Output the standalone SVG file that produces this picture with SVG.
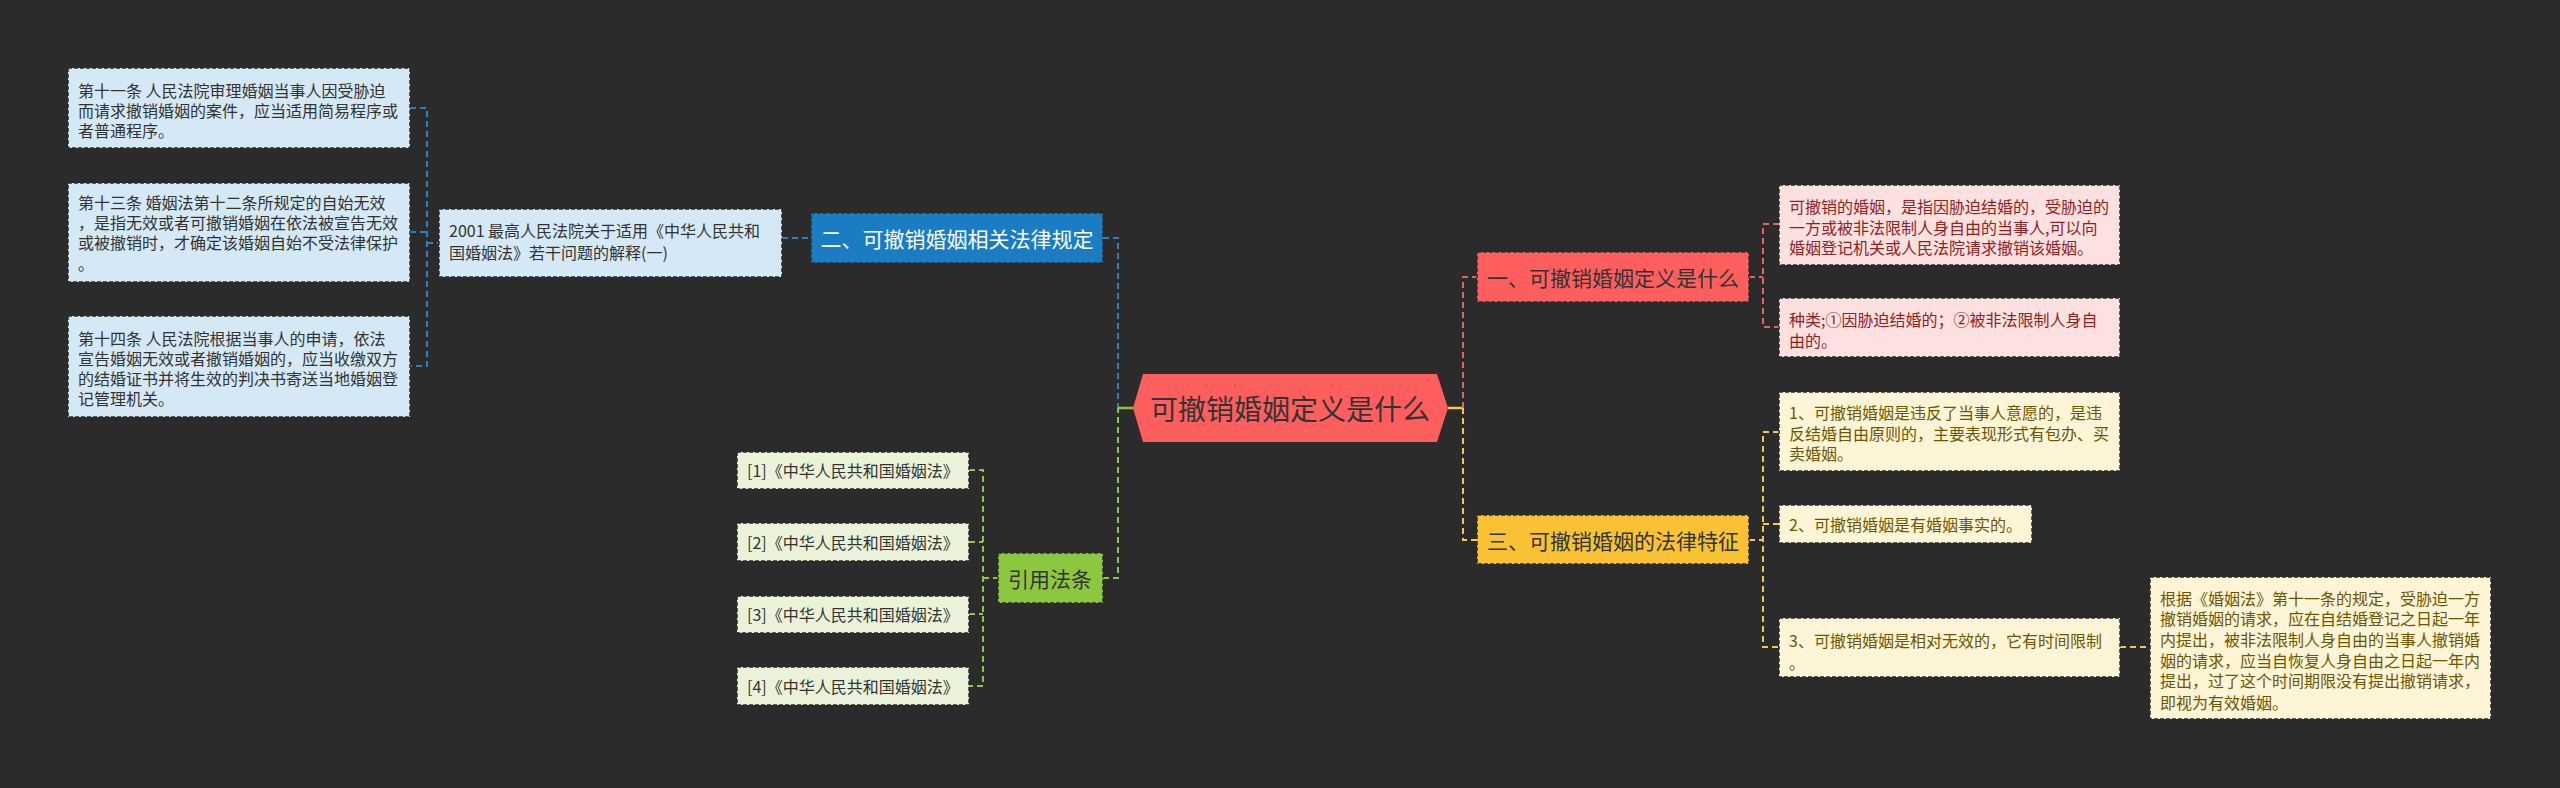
<svg xmlns="http://www.w3.org/2000/svg" width="2560" height="788" viewBox="0 0 2560 788">
<style>
text{font-family:"Noto Sans CJK SC","Noto Sans",sans-serif;dominant-baseline:central}
.t16{font-size:16px}
.bl rect{fill:#d5e8f5;stroke:#2b2b2b;stroke-width:1.5;stroke-dasharray:4 2}
.bl text{fill:#333}
.gr rect{fill:#eaf3da;stroke:#2b2b2b;stroke-width:1.5;stroke-dasharray:4 2}
.gr text{fill:#333}
.pk rect{fill:#fde0e0;stroke:#2b2b2b;stroke-width:1.5;stroke-dasharray:4 2}
.pk text{fill:#8f2323}
.ye rect{fill:#fef4d6;stroke:#2b2b2b;stroke-width:1.5;stroke-dasharray:4 2}
.ye text{fill:#6e5600}
.main rect{stroke:#2b2b2b;stroke-width:1.5;stroke-dasharray:4 2}
.main text{font-size:21px}
.c{fill:none;stroke-width:2;stroke-dasharray:6 4}
.cb{stroke:#2b80c0}.cg{stroke:#8dc63f}.cr{stroke:#e06666}.cy{stroke:#f2c94c}
</style>
<rect width="2560" height="788" fill="#2b2b2b"/>
<g id="connectors">
<path class="c cb" d="M410 108H427V366H410M410 232H427M427 243H439"/>
<path class="c cb" d="M782 238H811"/>
<path class="c cb" d="M1103 238H1118V408"/>
<path class="c cg" d="M969 470H983V686H969M969 542H983M969 614H983M983 578H998"/>
<path class="c cg" d="M1103 578H1118V408"/>
<path d="M1118 408H1133" stroke="#8dc63f" stroke-width="2.5" fill="none"/>
<path d="M1448 408H1463" stroke="#f2c94c" stroke-width="2.5" fill="none"/>
<path class="c cr" d="M1463 408V277H1477"/>
<path class="c cy" d="M1463 408V540H1477"/>
<path class="c cr" d="M1749 277H1763M1779 224H1763V327H1779"/>
<path class="c cy" d="M1749 540H1763M1779 432H1763V647H1779M1763 524H1779"/>
<path class="c cy" d="M2120 647H2150"/>
</g>
<g id="root">
<polygon points="1133,408 1143,374 1437,374 1448,408 1437,442 1143,442" fill="#ff5e5e"/>
<text x="1290" y="408" font-size="28" fill="#333" text-anchor="middle">可撤销婚姻定义是什么</text>
</g>
<g id="n2" class="main">
<rect x="811" y="213" width="292" height="50" fill="#1a7dc4"/>
<text x="957" y="238" fill="#fff" text-anchor="middle">二、可撤销婚姻相关法律规定</text>
</g>
<g id="n2001" class="bl t16">
<rect x="439" y="209" width="343" height="68"/>
<text x="449" y="230">2001 最高人民法院关于适用《中华人民共和</text>
<text x="449" y="252">国婚姻法》若干问题的解释(一)</text>
</g>
<g id="law11" class="bl t16">
<rect x="68" y="68" width="342" height="80"/>
<text x="78" y="90">第十一条 人民法院审理婚姻当事人因受胁迫</text>
<text x="78" y="110">而请求撤销婚姻的案件，应当适用简易程序或</text>
<text x="78" y="130">者普通程序。</text>
</g>
<g id="law13" class="bl t16">
<rect x="68" y="183" width="342" height="99"/>
<text x="78" y="202">第十三条 婚姻法第十二条所规定的自始无效</text>
<text x="78" y="222">，是指无效或者可撤销婚姻在依法被宣告无效</text>
<text x="78" y="242">或被撤销时，才确定该婚姻自始不受法律保护</text>
<text x="78" y="263">。</text>
</g>
<g id="law14" class="bl t16">
<rect x="68" y="316" width="342" height="101"/>
<text x="78" y="338">第十四条 人民法院根据当事人的申请，依法</text>
<text x="78" y="358">宣告婚姻无效或者撤销婚姻的，应当收缴双方</text>
<text x="78" y="378">的结婚证书并将生效的判决书寄送当地婚姻登</text>
<text x="78" y="398">记管理机关。</text>
</g>
<g id="ref" class="main">
<rect x="998" y="553" width="105" height="50" fill="#8dc63f"/>
<text x="1050" y="578" fill="#333" text-anchor="middle">引用法条</text>
</g>
<g id="ref1" class="gr t16"><rect x="737" y="452" width="232" height="37"/><text x="747" y="470">[1]《中华人民共和国婚姻法》</text></g>
<g id="ref2" class="gr t16"><rect x="737" y="523" width="232" height="38"/><text x="747" y="542">[2]《中华人民共和国婚姻法》</text></g>
<g id="ref3" class="gr t16"><rect x="737" y="596" width="232" height="37"/><text x="747" y="614">[3]《中华人民共和国婚姻法》</text></g>
<g id="ref4" class="gr t16"><rect x="737" y="667" width="232" height="38"/><text x="747" y="686">[4]《中华人民共和国婚姻法》</text></g>
<g id="n1" class="main">
<rect x="1477" y="252" width="272" height="50" fill="#ff5e5e"/>
<text x="1613" y="277" fill="#333" text-anchor="middle">一、可撤销婚姻定义是什么</text>
</g>
<g id="def1" class="pk t16">
<rect x="1779" y="185" width="341" height="80"/>
<text x="1789" y="206">可撤销的婚姻，是指因胁迫结婚的，受胁迫的</text>
<text x="1789" y="227">一方或被非法限制人身自由的当事人,可以向</text>
<text x="1789" y="247">婚姻登记机关或人民法院请求撤销该婚姻。</text>
</g>
<g id="def2" class="pk t16">
<rect x="1779" y="298" width="341" height="59"/>
<text x="1789" y="319">种类;①因胁迫结婚的；②被非法限制人身自</text>
<text x="1789" y="340">由的。</text>
</g>
<g id="n3" class="main">
<rect x="1477" y="515" width="272" height="49" fill="#f8c234"/>
<text x="1613" y="540" fill="#333" text-anchor="middle">三、可撤销婚姻的法律特征</text>
</g>
<g id="f1" class="ye t16">
<rect x="1779" y="392" width="341" height="79"/>
<text x="1789" y="412">1、可撤销婚姻是违反了当事人意愿的，是违</text>
<text x="1789" y="433">反结婚自由原则的，主要表现形式有包办、买</text>
<text x="1789" y="453">卖婚姻。</text>
</g>
<g id="f2" class="ye t16">
<rect x="1779" y="505" width="253" height="38"/>
<text x="1789" y="524">2、可撤销婚姻是有婚姻事实的。</text>
</g>
<g id="f3" class="ye t16">
<rect x="1779" y="618" width="341" height="59"/>
<text x="1789" y="640">3、可撤销婚姻是相对无效的，它有时间限制</text>
<text x="1789" y="662">。</text>
</g>
<g id="f3a" class="ye t16">
<rect x="2150" y="577" width="341" height="142"/>
<text x="2160" y="598">根据《婚姻法》第十一条的规定，受胁迫一方</text>
<text x="2160" y="618">撤销婚姻的请求，应在自结婚登记之日起一年</text>
<text x="2160" y="639">内提出，被非法限制人身自由的当事人撤销婚</text>
<text x="2160" y="660">姻的请求，应当自恢复人身自由之日起一年内</text>
<text x="2160" y="680">提出，过了这个时间期限没有提出撤销请求，</text>
<text x="2160" y="702">即视为有效婚姻。</text>
</g>
</svg>
